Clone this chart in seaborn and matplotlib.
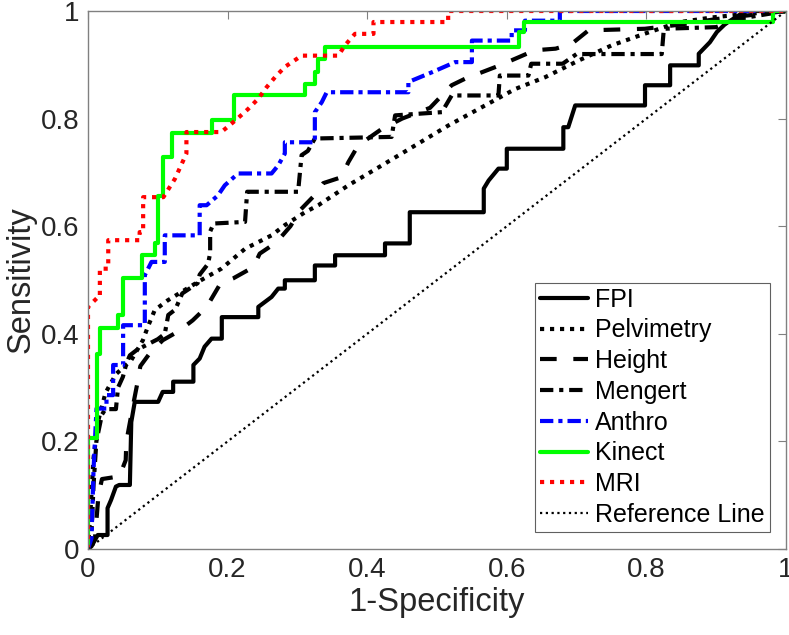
import matplotlib
matplotlib.use("Agg")
import matplotlib.pyplot as plt
import seaborn as sns
import pandas as pd

# ---- data (corner points) ----
fpi_x = [0, 0.005, 0.014, 0.028, 0.028, 0.033, 0.04, 0.0447, 0.06, 0.062, 0.067, 0.1005, 0.107, 0.107, 0.122, 0.122,
         0.151, 0.151, 0.160, 0.167, 0.177, 0.1917, 0.1917, 0.244, 0.244, 0.263, 0.2725, 0.282, 0.282, 0.325, 0.325,
         0.354, 0.354, 0.4255, 0.4255, 0.461, 0.461, 0.567, 0.567, 0.574, 0.588, 0.600, 0.600, 0.681, 0.681, 0.688,
         0.698, 0.698, 0.798, 0.798, 0.834, 0.834, 0.875, 0.875, 0.891, 0.901, 0.913, 0.93, 0.942, 1.0]
fpi_y = [0, 0.005, 0.026, 0.026, 0.076, 0.091, 0.116, 0.119, 0.119, 0.236, 0.2735, 0.2735, 0.292, 0.292, 0.292, 0.311,
         0.311, 0.342, 0.354, 0.376, 0.391, 0.391, 0.431, 0.431, 0.45, 0.4685, 0.484, 0.484, 0.4995, 0.4995, 0.527,
         0.527, 0.546, 0.546, 0.568, 0.568, 0.626, 0.626, 0.67, 0.685, 0.707, 0.707, 0.744, 0.744, 0.784, 0.784,
         0.8245, 0.8245, 0.8245, 0.862, 0.862, 0.899, 0.899, 0.9205, 0.942, 0.961, 0.976, 0.99, 1.0, 1.0]

pelv_x = [0, 0.004, 0.008, 0.015, 0.025, 0.04, 0.062, 0.0786, 0.0857, 0.0956, 0.114, 0.138, 0.157, 0.191, 0.225,
          0.263, 0.282, 0.311, 0.33, 0.373, 0.421, 0.4685, 0.516, 0.564, 0.612, 0.655, 0.703, 0.75, 0.798, 0.846,
          0.894, 0.942, 1.0]
pelv_y = [0, 0.08, 0.17, 0.24, 0.29, 0.325, 0.351, 0.388, 0.413, 0.444, 0.462, 0.481, 0.496, 0.521, 0.558,
          0.583, 0.602, 0.626, 0.639, 0.676, 0.713, 0.75, 0.787, 0.821, 0.855, 0.877, 0.908, 0.936, 0.958, 0.979,
          0.988, 0.9945, 1.0]

height_x = [0, 0.01, 0.015, 0.02, 0.045, 0.054, 0.055, 0.065, 0.071, 0.075, 0.088, 0.107, 0.13, 0.15, 0.17, 0.19,
            0.208, 0.237, 0.246, 0.27, 0.29, 0.304, 0.322, 0.337, 0.363, 0.373, 0.387, 0.42, 0.45, 0.49, 0.521, 0.54,
            0.564, 0.59, 0.617, 0.64, 0.67, 0.693, 0.717, 0.798, 0.85, 0.9, 1.0]
height_y = [0, 0.02, 0.1, 0.13, 0.135, 0.165, 0.2, 0.27, 0.31, 0.34, 0.363, 0.388, 0.405, 0.425, 0.45, 0.494,
            0.503, 0.524, 0.549, 0.57, 0.6, 0.63, 0.654, 0.68, 0.691, 0.719, 0.75, 0.78, 0.80, 0.82, 0.862, 0.874,
            0.886, 0.899, 0.914, 0.927, 0.93, 0.939, 0.964, 0.967, 0.975, 0.985, 1.0]

meng_x = [0, 0.005, 0.008, 0.012, 0.02, 0.025, 0.04, 0.043, 0.05, 0.055, 0.06, 0.07, 0.085, 0.1, 0.11, 0.115,
          0.125, 0.135, 0.157, 0.16, 0.172, 0.175, 0.175, 0.18, 0.225, 0.228, 0.301, 0.306, 0.315, 0.325, 0.435,
          0.44, 0.507, 0.521, 0.588, 0.59, 0.631, 0.635, 0.68, 0.7, 0.822, 0.825, 0.9, 0.93, 1.0]
meng_y = [0, 0.03, 0.12, 0.2, 0.25, 0.26, 0.26, 0.3, 0.32, 0.345, 0.36, 0.37, 0.38, 0.39, 0.40, 0.435,
          0.445, 0.475, 0.494, 0.51, 0.53, 0.55, 0.59, 0.605, 0.608, 0.664, 0.664, 0.732, 0.74, 0.763, 0.766,
          0.806, 0.812, 0.843, 0.843, 0.88, 0.88, 0.902, 0.902, 0.92, 0.92, 0.967, 0.97, 0.985, 1.0]

anth_x = [0, 0.005, 0.008, 0.0122, 0.0265, 0.0265, 0.036, 0.036, 0.0503, 0.0503, 0.0814, 0.0814, 0.091, 0.110,
          0.110, 0.160, 0.160, 0.170, 0.186, 0.196, 0.215, 0.263, 0.2725, 0.282, 0.282, 0.325, 0.325, 0.335, 0.342,
          0.459, 0.459, 0.4925, 0.526, 0.55, 0.55, 0.607, 0.607, 0.626, 0.626, 0.676, 0.676, 1.0]
anth_y = [0, 0.02, 0.15, 0.261, 0.261, 0.286, 0.286, 0.342, 0.342, 0.416, 0.416, 0.509, 0.5336, 0.5336,
          0.583, 0.583, 0.639, 0.639, 0.657, 0.676, 0.698, 0.698, 0.713, 0.735, 0.756, 0.756, 0.812, 0.8307, 0.849,
          0.849, 0.868, 0.886, 0.905, 0.905, 0.945, 0.945, 0.964, 0.964, 0.982, 0.982, 1.0, 1.0]

kin_x = [0, 0, 0.0125, 0.0125, 0.017, 0.017, 0.043, 0.043, 0.050, 0.050, 0.078, 0.078, 0.096, 0.096, 0.1005,
         0.1005, 0.108, 0.108, 0.121, 0.121, 0.177, 0.177, 0.209, 0.209, 0.311, 0.311, 0.325, 0.325, 0.33, 0.33,
         0.339, 0.339, 0.617, 0.617, 0.624, 0.624, 0.982, 0.982, 1.0]
kin_y = [0, 0.206, 0.206, 0.363, 0.363, 0.41, 0.41, 0.435, 0.435, 0.503, 0.503, 0.546, 0.546, 0.568, 0.568,
         0.657, 0.657, 0.729, 0.729, 0.774, 0.774, 0.797, 0.797, 0.843, 0.843, 0.8635, 0.8635, 0.886, 0.886, 0.911,
         0.911, 0.933, 0.933, 0.961, 0.961, 0.979, 0.979, 1.0, 1.0]

mri_x = [0, 0, 0.0145, 0.017, 0.017, 0.029, 0.029, 0.074, 0.074, 0.079, 0.079, 0.108, 0.1245, 0.141, 0.141,
         0.191, 0.2115, 0.2295, 0.244, 0.256, 0.268, 0.282, 0.306, 0.3586, 0.368, 0.3825, 0.409, 0.409, 0.516,
         0.516, 1.0]
mri_y = [0, 0.45, 0.4685, 0.4685, 0.521, 0.521, 0.574, 0.574, 0.589, 0.589, 0.654, 0.654, 0.688, 0.735, 0.775,
         0.775, 0.797, 0.818, 0.837, 0.8585, 0.877, 0.896, 0.917, 0.917, 0.936, 0.9575, 0.9575, 0.9795, 0.9795,
         1.0, 1.0]

ref_x = [0, 1]
ref_y = [0, 1]

labels = ["FPI", "Pelvimetry", "Height", "Mengert", "Anthro", "Kinect", "MRI", "Reference Line"]
xs = [fpi_x, pelv_x, height_x, meng_x, anth_x, kin_x, mri_x, ref_x]
ys = [fpi_y, pelv_y, height_y, meng_y, anth_y, kin_y, mri_y, ref_y]

colors = ["black", "black", "black", "black", "#0000ff", "#00ff00", "#ff0000", "black"]
styles = ["-", (0, (1, 1.4)), (0, (4, 4)), (0, (3.2, 1.4, 1, 1.4)), (0, (3.2, 1.2, 1, 1.2)), "-",
          (0, (1, 1.4)), (0, (1, 1.6))]
widths = [3, 3, 3, 3, 3, 3, 3, 1.6]

sns.set_theme(style="white")
plt.rcParams["font.family"] = ["Liberation Sans", "DejaVu Sans"]

fig = plt.figure(figsize=(7.89, 6.35), dpi=100)
ax = fig.add_axes([88 / 789, 1 - 549 / 635, 698 / 789, 538 / 635])

for lab, x, y, c, ls, lw in zip(labels, xs, ys, colors, styles, widths):
    df = pd.DataFrame({"x": x, "y": y})
    sns.lineplot(data=df, x="x", y="y", ax=ax, sort=False, estimator=None, color=c,
                 linestyle=ls, linewidth=lw, label=lab)

ax.set_xlim(0, 1)
ax.set_ylim(0, 1)
ticks = [0, 0.2, 0.4, 0.6, 0.8, 1]
tick_labels = ["0", "0.2", "0.4", "0.6", "0.8", "1"]
ax.set_xticks(ticks)
ax.set_xticklabels(tick_labels)
ax.set_yticks(ticks)
ax.set_yticklabels(tick_labels)
ax.tick_params(direction="in", length=6, width=0.8, color="#808080", labelsize=20,
               labelcolor="#262626", top=True, right=True, pad=6)
for s in ax.spines.values():
    s.set_color("#808080")
    s.set_linewidth(1.0)
ax.set_xlabel("1-Specificity", fontsize=23.5, color="#262626", labelpad=3)
ax.set_ylabel("Sensitivity", fontsize=23.5, color="#262626", labelpad=3)

leg = ax.legend(loc="lower right", bbox_to_anchor=(0.977, 0.0316), fontsize=18, frameon=True,
                fancybox=False, edgecolor="#606060", framealpha=1, handlelength=1.92,
                handletextpad=0.28, labelspacing=0.27, borderpad=0.2, borderaxespad=0)
leg.get_frame().set_linewidth(0.8)
for t in leg.get_texts():
    t.set_color("#000000")

fig.savefig("out.png", dpi=100)
